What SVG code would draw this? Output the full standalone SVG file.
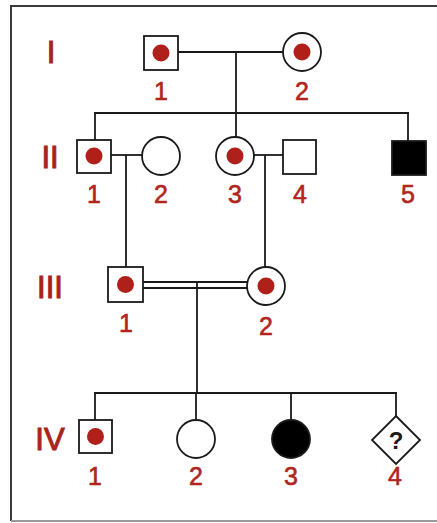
<svg xmlns="http://www.w3.org/2000/svg" width="437" height="523" viewBox="0 0 437 523">
<style>
.frame{stroke:#3a3a3a;stroke-width:2;fill:none}
.sym{fill:#fff;stroke:#1a1a1a;stroke-width:1.8}
.aff{fill:#000;stroke:#1a1a1a;stroke-width:1.8}
.dot{fill:#b0201a}
.ln{stroke:#1a1a1a;stroke-width:1.8;fill:none}
.gen{font-family:"Liberation Sans",Arial,sans-serif;font-size:31px;fill:#a8231d;stroke:#a8231d;stroke-width:1;text-anchor:middle}
.num{font-family:"Liberation Sans",Arial,sans-serif;font-size:25px;fill:#b0261e;stroke:#b0261e;stroke-width:0.6;text-anchor:middle}
.q{font-family:"Liberation Sans",Arial,sans-serif;font-size:24px;font-weight:bold;fill:#1a1a1a;text-anchor:middle}
</style>
<rect width="437" height="523" fill="#fff"/>
<path class="frame" d="M11,521 V6 H437"/>
<line x1="11" y1="521" x2="437" y2="521" stroke="#9a9a9a" stroke-width="2"/>
<g id="gen-labels">
<text class="gen" x="51" y="63">I</text>
<text class="gen" x="50" y="168">II</text>
<text class="gen" x="50" y="298">III</text>
<text class="gen" x="50" y="450">IV</text>
</g>
<g id="connectors">
<line class="ln" x1="178" y1="52" x2="283" y2="52"/>
<line class="ln" x1="236" y1="52" x2="236" y2="113"/>
<line class="ln" x1="94" y1="113" x2="409" y2="113"/>
<line class="ln" x1="95" y1="113" x2="95" y2="140"/>
<line class="ln" x1="236" y1="113" x2="236" y2="137"/>
<line class="ln" x1="408" y1="113" x2="408" y2="141"/>
<line class="ln" x1="111" y1="155" x2="142" y2="155"/>
<line class="ln" x1="126" y1="155" x2="126" y2="267"/>
<line class="ln" x1="254" y1="155" x2="283" y2="155"/>
<line class="ln" x1="265" y1="155" x2="265" y2="267"/>
<line class="ln" x1="143" y1="282" x2="248" y2="282"/>
<line class="ln" x1="143" y1="288" x2="248" y2="288"/>
<line class="ln" x1="197" y1="282" x2="197" y2="393"/>
<line class="ln" x1="94" y1="393" x2="397" y2="393"/>
<line class="ln" x1="95" y1="393" x2="95" y2="420"/>
<line class="ln" x1="196" y1="393" x2="196" y2="420"/>
<line class="ln" x1="291" y1="393" x2="291" y2="420"/>
<line class="ln" x1="396" y1="393" x2="396" y2="416"/>
</g>
<g id="I-1"><rect class="sym" x="144" y="36" width="34" height="34"/><circle class="dot" cx="161" cy="53" r="8.5"/><text class="num" x="161" y="100">1</text></g>
<g id="I-2"><circle class="sym" cx="302" cy="52" r="19"/><circle class="dot" cx="302" cy="52" r="8.5"/><text class="num" x="302" y="100">2</text></g>
<g id="II-1"><rect class="sym" x="77" y="140" width="34" height="33"/><circle class="dot" cx="94" cy="156" r="8.5"/><text class="num" x="94" y="203">1</text></g>
<g id="II-2"><circle class="sym" cx="161" cy="156" r="19"/><text class="num" x="161" y="203">2</text></g>
<g id="II-3"><circle class="sym" cx="235" cy="156" r="19"/><circle class="dot" cx="235" cy="156" r="8.5"/><text class="num" x="235" y="203">3</text></g>
<g id="II-4"><rect class="sym" x="283" y="140" width="33" height="34"/><text class="num" x="300" y="203">4</text></g>
<g id="II-5"><rect class="aff" x="392" y="141" width="34" height="34"/><text class="num" x="408" y="203">5</text></g>
<g id="III-1"><rect class="sym" x="108" y="267" width="35" height="35"/><circle class="dot" cx="125.5" cy="284.5" r="8.5"/><text class="num" x="126" y="332">1</text></g>
<g id="III-2"><circle class="sym" cx="266" cy="286" r="19"/><circle class="dot" cx="266" cy="286" r="8.5"/><text class="num" x="266" y="335">2</text></g>
<g id="IV-1"><rect class="sym" x="79" y="420" width="33" height="33"/><circle class="dot" cx="95.5" cy="436.5" r="8.5"/><text class="num" x="95" y="485">1</text></g>
<g id="IV-2"><circle class="sym" cx="196" cy="439" r="19"/><text class="num" x="196" y="485">2</text></g>
<g id="IV-3"><circle class="aff" cx="291" cy="439" r="19"/><text class="num" x="291" y="485">3</text></g>
<g id="IV-4"><polygon class="sym" points="396,416 420,440 396,464 372,440"/><text class="q" x="396" y="449">?</text><text class="num" x="395" y="485">4</text></g>
</svg>
